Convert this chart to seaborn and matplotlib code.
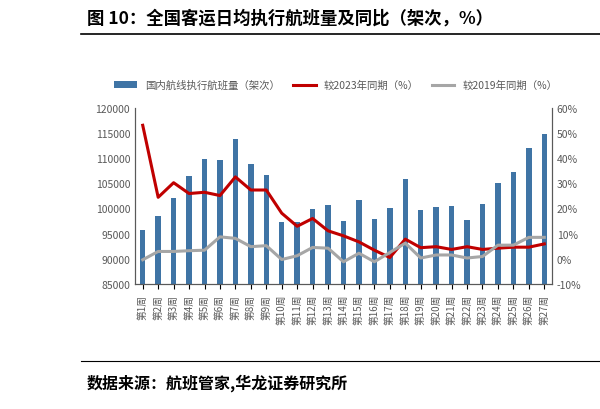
import matplotlib
matplotlib.use("Agg")
import matplotlib.pyplot as plt
import seaborn as sns
import pandas as pd
import numpy as np

plt.rcParams["font.family"] = "Noto Sans CJK SC"

weeks = [f"第{i}周" for i in range(1, 28)]
flights = [95800, 98500, 102000, 106500, 109900, 109700, 113800, 108800, 106600, 97200,
           97200, 99800, 100700, 97500, 101700, 97900, 100000, 105800, 99600, 100300,
           100500, 97700, 100800, 105000, 107200, 112000, 114700]
yoy2023 = [53, 24.4, 30.2, 25.9, 26.4, 25.1, 32.5, 27.3, 27.3, 18.1, 12.9, 16, 11.1, 9.1, 6.7,
           3.4, 0.5, 7.8, 4.4, 4.8, 3.7, 4.8, 3.7, 4.2, 4.6, 4.6, 5.9]
yoy2019 = [-0.4, 2.9, 2.9, 3.2, 3.4, 8.7, 8.1, 4.8, 5.2, -0.3, 1.2, 4.5, 4.2, -1.2, 2.2,
           -1.2, 2.5, 6.2, 0.3, 1.5, 1.5, 0.3, 0.9, 5.4, 5.4, 8.5, 8.5]

df = pd.DataFrame({"week": weeks, "flights": flights, "y23": yoy2023, "y19": yoy2019})
df["x"] = np.arange(len(weeks))

fig = plt.figure(figsize=(6, 4.1), dpi=100)
fig.text(0.145, 0.955, "图 10：全国客运日均执行航班量及同比（架次，%）", fontsize=12.5, fontweight="bold", va="center")
fig.add_artist(plt.Line2D([0.135, 1.0], [0.915, 0.915], color="black", lw=1.2, transform=fig.transFigure))
fig.add_artist(plt.Line2D([0.135, 1.0], [0.118, 0.118], color="black", lw=0.8, transform=fig.transFigure))
fig.text(0.145, 0.065, "数据来源：航班管家,华龙证券研究所", fontsize=11.5, fontweight="bold", va="center")

ax = fig.add_axes([0.225, 0.305, 0.695, 0.43])
sns.barplot(data=df, x="x", y="flights", color="#2E75B6", width=0.35, ax=ax, label="国内航线执行航班量（架次）")
ax.set_ylim(85000, 120000)
ax.set_yticks(range(85000, 120001, 5000))
ax.set_xlim(-0.5, 26.5)
ax.set_xticks(df["x"])
ax.set_xticklabels(weeks, rotation=90, fontsize=7, color="#595959")
ax.tick_params(axis="y", labelsize=7.5, colors="#595959", length=0)
ax.set_xlabel(""); ax.set_ylabel("")
if ax.legend_ is not None:
    ax.legend_.remove()

ax2 = ax.twinx()
sns.lineplot(data=df, x="x", y="y23", color="#C00000", lw=2.2, ax=ax2, label="较2023年同期（%）")
sns.lineplot(data=df, x="x", y="y19", color="#A6A6A6", lw=2.2, ax=ax2, label="较2019年同期（%）")
ax2.set_ylim(-10, 60)
ax2.set_yticks(range(-10, 61, 10))
ax2.set_yticklabels([f"{v}%" for v in range(-10, 61, 10)])
ax2.tick_params(axis="y", labelsize=7.5, colors="#595959", length=0)
ax2.set_ylabel(""); ax2.set_xlabel("")
if ax2.legend_ is not None:
    ax2.legend_.remove()

for a in (ax, ax2):
    a.spines["top"].set_visible(False)
    for s in ["left", "right", "bottom"]:
        a.spines[s].set_color("#595959")

h1, l1 = ax.get_legend_handles_labels()
h2, l2 = ax2.get_legend_handles_labels()
fig.legend(h1 + h2, l1 + l2, loc="center", bbox_to_anchor=(0.56, 0.79), ncol=3, frameon=False,
           fontsize=7.5, labelcolor="#595959", handlelength=2.2, columnspacing=1.2)

fig.savefig("out.png", dpi=100, facecolor="white")
